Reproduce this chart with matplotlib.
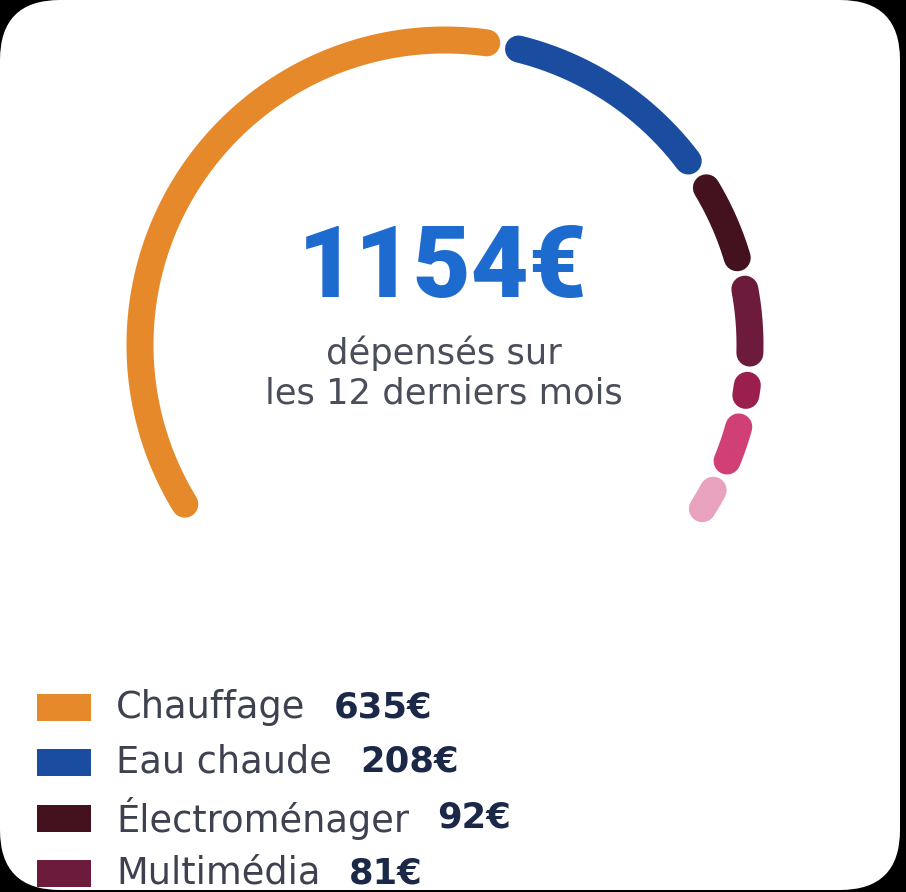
"""
Gauge chart of yearly energy spending (1154€ over the last 12 months)
"""
import matplotlib.pyplot as plt
import numpy as np
from matplotlib.patches import FancyBboxPatch, Rectangle

# data
values = [635, 208, 92, 81, 33, 56, 43]
colors = ["#e5892a", "#1a4c9f", "#44121f", "#6c1b3c", "#9a1e4e", "#d03f76", "#e9a2bd"]
legend_labels = ["Chauffage", "Eau chaude", "Électroménager", "Multimédia"]
legend_values = ["635€", "208€", "92€", "81€"]
total_text = "1154€"
subtitle = "dépensés sur\nles 12 derniers mois"

W, H = 906, 892
fig = plt.figure(figsize=(W / 100, H / 100), dpi=100, facecolor="black")
ax = fig.add_axes([0, 0, 1, 1])
ax.set_xlim(0, W)
ax.set_ylim(H, 0)
ax.axis("off")

# white card with rounded corners
card = FancyBboxPatch((0, 0), 900, 890, boxstyle="round,pad=0,rounding_size=60",
                      facecolor="white", edgecolor="none")
ax.add_patch(card)

# gauge geometry (pixel units)
cx, cy, r = 445, 345, 305
stroke = 27
start, end, gap = 214.0, -35.0, 1.0
cap = np.degrees((stroke / 2) / r)
k = (start - end - gap * (len(values) - 1)) / sum(values)

cursor = start
for v, c in zip(values, colors):
    span = v * k
    a0 = cursor - cap
    a1 = min(cursor - span + cap, a0 - 0.01)
    t = np.radians(np.linspace(a0, a1, 200))
    ax.plot(cx + r * np.cos(t), cy - r * np.sin(t), color=c,
            lw=stroke * 0.72, solid_capstyle="round")
    cursor -= span + gap

# centre texts
ax.text(443, 270, total_text, ha="center", va="center", fontsize=72,
        fontweight="heavy", family="Roboto", color="#1e6bd0")
ax.text(444, 373, subtitle, ha="center", va="center", fontsize=25.4,
        color="#4a4e5a", linespacing=1.2)

# legend
row_y = [707, 762, 818, 873]
for y, lab, val, c in zip(row_y, legend_labels, legend_values, colors):
    ax.add_patch(Rectangle((37, y - 13), 54, 27, facecolor=c, edgecolor="none"))
    t = ax.text(116, y, lab, ha="left", va="center", fontsize=26.5,
                color="#3d4150")
    fig.canvas.draw()
    x_end = t.get_window_extent().x1
    ax.text(x_end + 28, y, val, ha="left", va="center", fontsize=25.5,
            fontweight="heavy", color="#1b2848")

plt.savefig("out.png", dpi=100, facecolor="black")
plt.close()
